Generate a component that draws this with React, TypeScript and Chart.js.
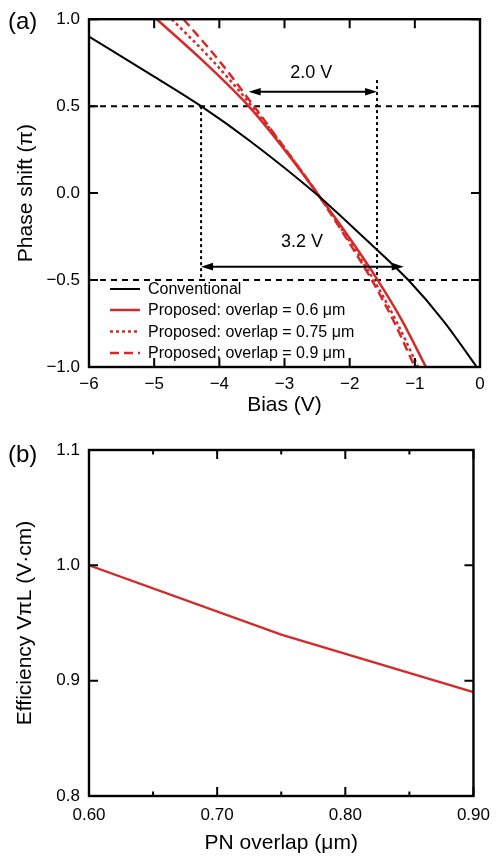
import React, { useEffect, useRef } from 'react';
import { Chart, registerables } from 'chart.js';

Chart.register(...registerables);

const FONT = '"Liberation Sans", Arial, Helvetica, sans-serif';
const RED = '#d62a2a';
const BLACK = '#000000';

// ---------- Panel (a) data ----------
const convBias = [-6, -5, -4.28, -3.53, -2.53, -1.8, -1.1, -0.55, -0.05];
const convPhase = [0.9, 0.67, 0.5, 0.3, 0.0, -0.25, -0.5, -0.74, -1.0];

const p06Bias = [-4.96, -4.25, -3.55, -3.0, -2.5, -2.0, -1.57, -1.2, -0.83];
const p06Phase = [1.0, 0.76, 0.5, 0.25, 0.0, -0.26, -0.5, -0.73, -1.0];

const p075Bias = [-4.73, -4.1, -3.5, -3.0, -2.5, -2.03, -1.63, -1.28, -0.95];
const p075Phase = [1.0, 0.76, 0.5, 0.26, 0.0, -0.26, -0.5, -0.74, -1.0];

const p09Bias = [-4.55, -4.0, -3.47, -2.98, -2.5, -2.05, -1.66, -1.32, -1.0];
const p09Phase = [1.0, 0.76, 0.5, 0.25, 0.0, -0.26, -0.5, -0.74, -1.0];

const legendLabels = [
  'Conventional',
  'Proposed: overlap = 0.6 \u03bcm',
  'Proposed: overlap = 0.75 \u03bcm',
  'Proposed: overlap = 0.9 \u03bcm',
];

const guideLevels = [0.5, -0.5];
const guideBias = [-4.28, -1.58];
const guideTop = [0.5, 0.65];
const guideBottom = [-0.5, -0.5];

const arrowFrom = [-3.55, -4.28];
const arrowTo = [-1.58, -1.17];
const arrowLevel = [0.583, -0.423];
const arrowLabels = ['2.0 V', '3.2 V'];
const arrowLabelBias = [-2.59, -2.73];
const arrowLabelPhase = [0.689, -0.28];

// ---------- Panel (b) data ----------
const overlapValues = [0.6, 0.75, 0.9];
const efficiencyValues = [1.0, 0.94, 0.89];
const overlapMinorTicks = [0.65, 0.75, 0.85];

const toXY = (xs: number[], ys: number[]) => xs.map((x, i) => ({ x, y: ys[i] }));
const fmt = (v: number, d: number) => Number(v).toFixed(d).replace('-', '\u2212');

function makeFramePlugin(tickLen: number, minorX: number[]) {
  return {
    id: 'frameTicks',
    afterDatasetsDraw(chart: any) {
      const { ctx, chartArea, scales } = chart;
      const { left, right, top, bottom } = chartArea;
      const x = scales.x;
      const y = scales.y;
      ctx.save();
      ctx.strokeStyle = BLACK;
      ctx.lineWidth = 2;
      ctx.setLineDash([]);
      ctx.beginPath();
      x.ticks.forEach((t: any) => {
        const px = x.getPixelForValue(t.value);
        ctx.moveTo(px, bottom);
        ctx.lineTo(px, bottom - tickLen);
        ctx.moveTo(px, top);
        ctx.lineTo(px, top + tickLen);
      });
      minorX.forEach((v) => {
        const px = x.getPixelForValue(v);
        ctx.moveTo(px, bottom);
        ctx.lineTo(px, bottom - tickLen / 2);
        ctx.moveTo(px, top);
        ctx.lineTo(px, top + tickLen / 2);
      });
      y.ticks.forEach((t: any) => {
        const py = y.getPixelForValue(t.value);
        ctx.moveTo(left, py);
        ctx.lineTo(left + tickLen, py);
        ctx.moveTo(right, py);
        ctx.lineTo(right - tickLen, py);
      });
      ctx.stroke();
      ctx.lineWidth = 2.4;
      ctx.strokeRect(left, top, right - left, bottom - top);
      ctx.restore();
    },
  };
}

function makePanelLabelPlugin(text: string, cy: number) {
  return {
    id: 'panelLabel',
    afterDraw(chart: any) {
      const { ctx } = chart;
      ctx.save();
      ctx.fillStyle = BLACK;
      ctx.font = `24px ${FONT}`;
      ctx.textAlign = 'left';
      ctx.textBaseline = 'middle';
      ctx.fillText(text, 8, cy);
      ctx.restore();
    },
  };
}

const legendPlugin = {
  id: 'insideLegend',
  afterDraw(chart: any) {
    const { ctx, chartArea } = chart;
    const { left, bottom } = chartArea;
    ctx.save();
    ctx.font = `16px ${FONT}`;
    ctx.textAlign = 'left';
    ctx.textBaseline = 'middle';
    const offsets = [78, 57, 35.5, 14];
    legendLabels.forEach((label, i) => {
      const ds = chart.data.datasets[i];
      const yy = bottom - offsets[i];
      ctx.strokeStyle = ds.borderColor;
      ctx.lineWidth = ds.borderWidth;
      ctx.setLineDash(ds.borderDash || []);
      ctx.beginPath();
      ctx.moveTo(left + 21, yy);
      ctx.lineTo(left + 51, yy);
      ctx.stroke();
      ctx.setLineDash([]);
      ctx.fillStyle = BLACK;
      ctx.fillText(label, left + 59, yy + 1);
    });
    ctx.restore();
  },
};

const arrowPlugin = {
  id: 'arrows',
  afterDatasetsDraw(chart: any) {
    const { ctx, scales } = chart;
    const x = scales.x;
    const y = scales.y;
    ctx.save();
    ctx.strokeStyle = BLACK;
    ctx.fillStyle = BLACK;
    ctx.lineWidth = 2;
    ctx.setLineDash([]);
    const head = 12;
    const half = 3.8;
    arrowFrom.forEach((from, i) => {
      const x1 = x.getPixelForValue(from);
      const x2 = x.getPixelForValue(arrowTo[i]);
      const py = y.getPixelForValue(arrowLevel[i]);
      ctx.beginPath();
      ctx.moveTo(x1 + head - 2, py);
      ctx.lineTo(x2 - head + 2, py);
      ctx.stroke();
      ctx.beginPath();
      ctx.moveTo(x1, py);
      ctx.lineTo(x1 + head, py - half);
      ctx.lineTo(x1 + head, py + half);
      ctx.closePath();
      ctx.fill();
      ctx.beginPath();
      ctx.moveTo(x2, py);
      ctx.lineTo(x2 - head, py - half);
      ctx.lineTo(x2 - head, py + half);
      ctx.closePath();
      ctx.fill();
    });
    ctx.font = `18px ${FONT}`;
    ctx.textAlign = 'center';
    ctx.textBaseline = 'middle';
    arrowLabels.forEach((label, i) => {
      ctx.fillText(label, x.getPixelForValue(arrowLabelBias[i]), y.getPixelForValue(arrowLabelPhase[i]));
    });
    ctx.restore();
  },
};

function PanelA() {
  const ref = useRef<HTMLCanvasElement | null>(null);
  useEffect(() => {
    if (!ref.current) return;
    const guideSets: any[] = [];
    guideLevels.forEach((lv) => {
      guideSets.push({
        data: toXY([-6, 0], [lv, lv]),
        borderColor: BLACK,
        borderWidth: 2,
        borderDash: [6, 5],
        pointRadius: 0,
        tension: 0,
      });
    });
    guideBias.forEach((b, i) => {
      guideSets.push({
        data: toXY([b, b], [guideTop[i], guideBottom[i]]),
        borderColor: BLACK,
        borderWidth: 2,
        borderDash: [3, 3],
        pointRadius: 0,
        tension: 0,
      });
    });
    const curve = (xs: number[], ys: number[], color: string, width: number, dash: number[]) => ({
      data: toXY(xs, ys),
      borderColor: color,
      borderWidth: width,
      borderDash: dash,
      pointRadius: 0,
      cubicInterpolationMode: 'monotone',
      tension: 0.4,
    });
    const chart = new Chart(ref.current, {
      type: 'line',
      data: {
        datasets: [
          curve(convBias, convPhase, BLACK, 2, []),
          curve(p06Bias, p06Phase, RED, 2.5, []),
          curve(p075Bias, p075Phase, RED, 2.5, [3, 3]),
          curve(p09Bias, p09Phase, RED, 2.5, [9, 5]),
          ...guideSets,
        ] as any,
      },
      options: {
        animation: false,
        responsive: false,
        devicePixelRatio: 1,
        layout: { padding: { left: 0, right: 19, top: 17, bottom: 0 } },
        plugins: { legend: { display: false }, tooltip: { enabled: false } },
        scales: {
          x: {
            type: 'linear',
            min: -6,
            max: 0,
            grid: { display: false, drawTicks: false },
            border: { display: false },
            ticks: {
              stepSize: 1,
              autoSkip: false,
              maxRotation: 0,
              padding: 7,
              color: BLACK,
              font: { family: FONT, size: 17 },
              callback: (v: any) => fmt(v, 0),
            },
            title: {
              display: true,
              text: 'Bias (V)',
              color: BLACK,
              font: { family: FONT, size: 21 },
              padding: { top: 0, bottom: 2 },
            },
            afterFit: (s: any) => {
              s.height = 53;
            },
          },
          y: {
            type: 'linear',
            min: -1,
            max: 1,
            grid: { display: false, drawTicks: false },
            border: { display: false },
            ticks: {
              stepSize: 0.5,
              autoSkip: false,
              padding: 9,
              color: BLACK,
              font: { family: FONT, size: 17 },
              callback: (v: any) => fmt(v, 1),
            },
            title: {
              display: true,
              text: 'Phase shift (\u03c0)',
              color: BLACK,
              font: { family: FONT, size: 21 },
              padding: { top: 14, bottom: 0 },
            },
            afterFit: (s: any) => {
              s.width = 89;
            },
          },
        },
      } as any,
      plugins: [makeFramePlugin(9, []), legendPlugin, arrowPlugin, makePanelLabelPlugin('(a)', 22)],
    });
    return () => chart.destroy();
  }, []);
  return <canvas ref={ref} width={499} height={420} style={{ display: 'block' }} />;
}

function PanelB() {
  const ref = useRef<HTMLCanvasElement | null>(null);
  useEffect(() => {
    if (!ref.current) return;
    const chart = new Chart(ref.current, {
      type: 'line',
      data: {
        datasets: [
          {
            data: toXY(overlapValues, efficiencyValues),
            borderColor: RED,
            borderWidth: 2.4,
            pointRadius: 0,
            tension: 0,
          },
        ] as any,
      },
      options: {
        animation: false,
        responsive: false,
        devicePixelRatio: 1,
        layout: { padding: { left: 0, right: 20, top: 30, bottom: 0 } },
        plugins: { legend: { display: false }, tooltip: { enabled: false } },
        scales: {
          x: {
            type: 'linear',
            min: 0.6,
            max: 0.9,
            grid: { display: false, drawTicks: false },
            border: { display: false },
            ticks: {
              stepSize: 0.1,
              autoSkip: false,
              maxRotation: 0,
              padding: 9,
              color: BLACK,
              font: { family: FONT, size: 17 },
              callback: (v: any) => fmt(v, 2),
            },
            title: {
              display: true,
              text: 'PN overlap (\u03bcm)',
              color: BLACK,
              font: { family: FONT, size: 21 },
              padding: { top: 0, bottom: 3 },
            },
            afterFit: (s: any) => {
              s.height = 63;
            },
          },
          y: {
            type: 'linear',
            min: 0.8,
            max: 1.1,
            grid: { display: false, drawTicks: false },
            border: { display: false },
            ticks: {
              stepSize: 0.1,
              autoSkip: false,
              padding: 9,
              color: BLACK,
              font: { family: FONT, size: 17 },
              callback: (v: any) => fmt(v, 1),
            },
            title: {
              display: true,
              text: 'Efficiency V\u03c0L (V\u00b7cm)',
              color: BLACK,
              font: { family: FONT, size: 21 },
              padding: { top: 13, bottom: 0 },
            },
            afterFit: (s: any) => {
              s.width = 89;
            },
          },
        },
      } as any,
      plugins: [makeFramePlugin(9, overlapMinorTicks), makePanelLabelPlugin('(b)', 35)],
    });
    return () => chart.destroy();
  }, []);
  return <canvas ref={ref} width={499} height={439} style={{ display: 'block' }} />;
}

export default function App() {
  return (
    <div style={{ position: 'absolute', left: 0, top: 0, width: 499, height: 859, background: '#fff' }}>
      <PanelA />
      <PanelB />
    </div>
  );
}
